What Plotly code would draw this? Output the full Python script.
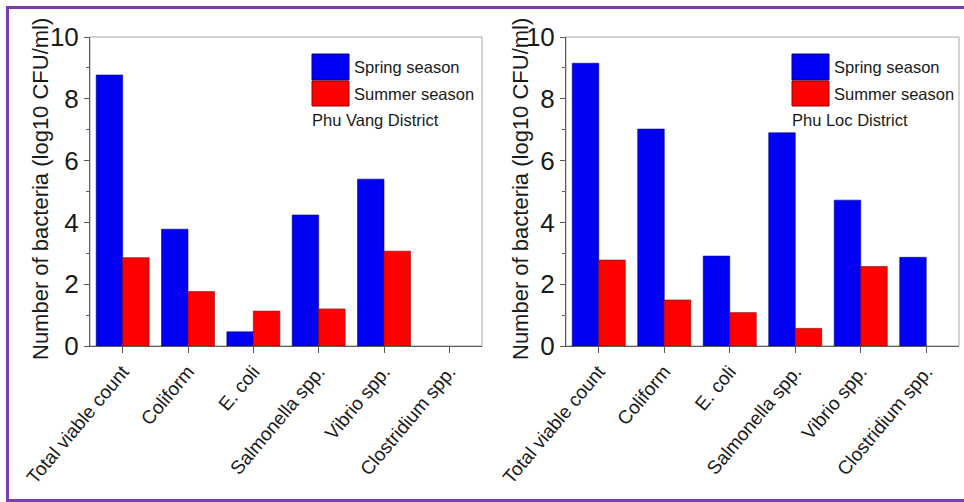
import plotly.graph_objects as go

# Bacterial counts (log10 CFU/ml) by season for two districts
categories = ["Total viable count", "Coliform", "E. coli",
              "Salmonella spp.", "Vibrio spp.", "Clostridium spp."]

phu_vang_spring = [8.77, 3.78, 0.46, 4.24, 5.40, None]
phu_vang_summer = [2.86, 1.76, 1.13, 1.20, 3.07, None]

phu_loc_spring = [9.15, 7.02, 2.91, 6.90, 4.72, 2.87]
phu_loc_summer = [2.78, 1.49, 1.08, 0.57, 2.57, None]

y_ticks = [0, 2, 4, 6, 8, 10]
series_names = ["Spring season", "Summer season"]
district_names = ["Phu Vang District", "Phu Loc District"]
y_title = "Number of bacteria (log10 CFU/ml)"

BLUE = "#0000f2"
RED = "#ff0000"
TEXT = "#1a1a1a"
SANS = "Liberation Sans, Arial, sans-serif"

W, H = 964, 502
fig = go.Figure()

panels = [
    ("x", "y", phu_vang_spring, phu_vang_summer, district_names[0]),
    ("x2", "y2", phu_loc_spring, phu_loc_summer, district_names[1]),
]

for xa, ya, spring, summer, _ in panels:
    fig.add_trace(go.Bar(x=categories, y=spring, name=series_names[0],
                         marker=dict(color=BLUE, line=dict(color="#00008a", width=0.6)),
                         xaxis=xa, yaxis=ya, showlegend=False))
    fig.add_trace(go.Bar(x=categories, y=summer, name=series_names[1],
                         marker=dict(color=RED, line=dict(color="#8a0000", width=0.6)),
                         xaxis=xa, yaxis=ya, showlegend=False))

# pixel layout of the two plot areas
plot_top, plot_bottom = 37, 346
x_domains = [(90, 482), (566, 959)]
ydom = [1 - plot_bottom / H, 1 - plot_top / H]

xaxis_common = dict(
    type="category", range=[-0.5, 5.5], automargin=False,
    showline=True, linecolor="#5a5a5a", linewidth=1,
    ticks="outside", ticklen=6, tickcolor="#5a5a5a",
    tickangle=-50, tickfont=dict(family=SANS, size=19, color=TEXT),
    showgrid=False, zeroline=False,
    minor=dict(ticks="outside", ticklen=3, tickcolor="#5a5a5a", showgrid=False),
)
yaxis_common = dict(
    range=[0, 10], tickvals=y_ticks, automargin=False,
    showline=True, linecolor="#5a5a5a", linewidth=1,
    ticks="outside", ticklen=5, tickcolor="#5a5a5a",
    tickfont=dict(family=SANS, size=26, color=TEXT),
    showgrid=False, zeroline=False,
    minor=dict(dtick=1, tick0=1, ticks="outside", ticklen=3, tickcolor="#5a5a5a", showgrid=False),
)

fig.update_layout(
    width=W, height=H,
    margin=dict(l=0, r=0, t=0, b=0, autoexpand=False),
    paper_bgcolor="white", plot_bgcolor="white",
    barmode="group", bargap=0.19, bargroupgap=0,
    xaxis=dict(xaxis_common, domain=[x_domains[0][0] / W, x_domains[0][1] / W], anchor="y"),
    yaxis=dict(yaxis_common, domain=ydom, anchor="x"),
    xaxis2=dict(xaxis_common, domain=[x_domains[1][0] / W, x_domains[1][1] / W], anchor="y2"),
    yaxis2=dict(yaxis_common, domain=ydom, anchor="x2"),
)

shapes = []
annotations = []
ph = plot_bottom - plot_top


def ydomain(py):
    return 1 - (py - plot_top) / ph


for i, (xa, ya, _, _, district) in enumerate(panels):
    x0, x1 = x_domains[i]
    pw = x1 - x0
    xr = f"{xa} domain"
    yr = f"{ya} domain"
    # light frame around the plot area
    shapes.append(dict(type="rect", xref=xr, yref=yr, x0=0, x1=1, y0=0, y1=1,
                       line=dict(color="#a8a8a8", width=1), layer="below"))
    # legend swatches
    sx0 = (312 - 90) / 392 if i == 0 else (792 - 566) / 393
    sx1 = sx0 + 37 / pw
    tx = sx1 + 3 / pw
    shapes.append(dict(type="rect", xref=xr, yref=yr, x0=sx0, x1=sx1,
                       y0=ydomain(80), y1=ydomain(54),
                       fillcolor=BLUE, line=dict(color="#00008a", width=1)))
    shapes.append(dict(type="rect", xref=xr, yref=yr, x0=sx0, x1=sx1,
                       y0=ydomain(106), y1=ydomain(81),
                       fillcolor=RED, line=dict(color="#8a0000", width=1)))
    for label, py in [(series_names[0], 67), (series_names[1], 93.5)]:
        annotations.append(dict(text=label, xref=xr, yref=yr, x=tx, y=ydomain(py),
                                xanchor="left", yanchor="middle", showarrow=False,
                                font=dict(family=SANS, size=16.5, color=TEXT)))
    annotations.append(dict(text=district, xref=xr, yref=yr, x=sx0 - 2 / pw, y=ydomain(120),
                            xanchor="left", yanchor="middle", showarrow=False,
                            font=dict(family=SANS, size=16.5, color=TEXT)))
    # y-axis title
    title_x = 40 if i == 0 else 520
    annotations.append(dict(text=y_title, xref="paper", yref="paper",
                            x=title_x / W, y=1 - 189 / H, textangle=-90,
                            xanchor="center", yanchor="middle", showarrow=False,
                            font=dict(family=SANS, size=22, color=TEXT)))

# purple outer frame
shapes.append(dict(type="rect", xref="paper", yref="paper",
                   x0=7.5 / W, x1=1.02, y0=1 - 500.5 / H, y1=1 - 7.5 / H,
                   line=dict(color="#7a3cb0", width=3), layer="above"))

fig.update_layout(shapes=shapes, annotations=annotations)
fig.write_html("out.html")
